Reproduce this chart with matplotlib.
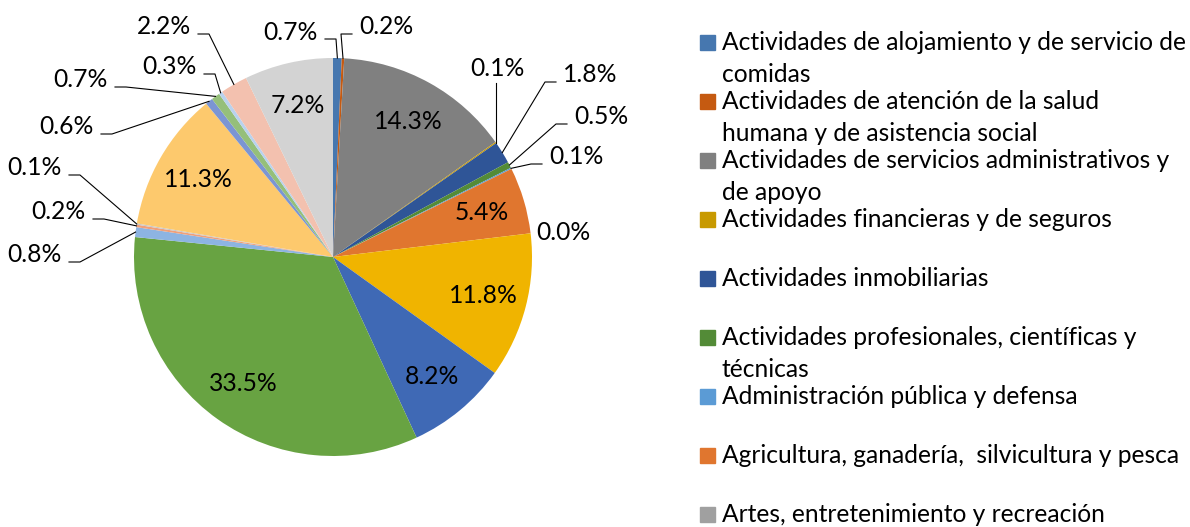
import matplotlib
matplotlib.use("Agg")
import matplotlib.pyplot as plt
from matplotlib.patches import Rectangle
import numpy as np

plt.rcParams["font.family"] = ["Lato", "DejaVu Sans"]

# share of each sector, clockwise from 12 o'clock (%)
shares = [0.7, 0.2, 14.3, 0.1, 1.8, 0.5, 0.1, 5.4, 0.0, 11.8, 8.2,
          33.5, 0.8, 0.2, 0.1, 11.3, 0.6, 0.7, 0.3, 2.2, 7.2]

slice_colors = ["#4677AF", "#C55A11", "#808080", "#C89A00", "#2F5597",
                "#538B37", "#5B9BD5", "#E0762F", "#A0A0A0", "#F0B400",
                "#3F69B5", "#68A342", "#8DB4E2", "#F0A07A", "#C8C8C8",
                "#FDC96D", "#7B95D3", "#95BF7A", "#B9D2EE", "#F3C1AF",
                "#D3D3D3"]

legend_names = [
    "Actividades de alojamiento y de servicio de\ncomidas",
    "Actividades de atención de la salud\nhumana y de asistencia social",
    "Actividades de servicios administrativos y\nde apoyo",
    "Actividades financieras y de seguros",
    "Actividades inmobiliarias",
    "Actividades profesionales, científicas y\ntécnicas",
    "Administración pública y defensa",
    "Agricultura, ganadería,  silvicultura y pesca",
    "Artes, entretenimiento y recreación",
]

W, H = 1190, 527
CX, CY, R = 333, 257, 199      # pie centre and radius in pixels
FS = 17.7

# small slices get an outside label: (side, text x, text y) in pixels
outer_labels = {
    0: ("L", 318, 32), 1: ("R", 359, 27), 3: ("T", 497, 80),
    4: ("R", 563, 75), 5: ("R", 574, 117), 6: ("R", 549, 157),
    8: ("N", 536, 233), 12: ("L", 62, 255), 13: ("L", 86, 212),
    14: ("L", 62, 168), 16: ("L", 94, 127), 17: ("L", 108, 80),
    18: ("L", 197, 67), 19: ("L", 191, 27),
}


def to_data(px, py):
    return (px - CX) / R, (CY - py) / R


fig = plt.figure(figsize=(W / 100, H / 100), dpi=100)
ax = fig.add_axes([0, 0, 1, 1])
wedges, _ = ax.pie(shares, colors=slice_colors, startangle=90, counterclock=False,
                   radius=1, wedgeprops=dict(linewidth=0))
ax.set_xlim(-CX / R, (W - CX) / R)
ax.set_ylim((CY - H) / R, CY / R)
ax.set_aspect("equal")
ax.axis("off")

for i, (w, v) in enumerate(zip(wedges, shares)):
    mid = np.deg2rad((w.theta1 + w.theta2) / 2)
    ex, ey = np.cos(mid), np.sin(mid)
    label = f"{v:.1f}%"
    if i not in outer_labels:
        ax.text(0.78 * ex, 0.78 * ey, label, ha="center", va="center", fontsize=FS)
        continue
    side, tx, ty = outer_labels[i]
    if side == "T":
        ax.text(*to_data(tx, ty), label, ha="center", va="bottom", fontsize=FS)
        ax.plot([ex, ex], [ey, to_data(tx, ty + 3)[1]], color="black", lw=0.8)
    elif side == "N":
        ax.text(*to_data(tx, ty), label, ha="left", va="center", fontsize=FS)
    else:
        d = 1 if side == "L" else -1
        ax.text(*to_data(tx, ty), label, ha="right" if side == "L" else "left",
                va="center", fontsize=FS)
        attach = to_data(tx + d * 7, ty + 7)
        elbow = to_data(tx + d * 18, ty + 7)
        ax.plot([ex, elbow[0], attach[0]], [ey, elbow[1], attach[1]],
                color="black", lw=0.8)

# legend drawn entry by entry, one fixed slot per category
for k, name in enumerate(legend_names):
    y = 43 + 59 * k
    fig.patches.append(Rectangle((700 / W, 1 - (y + 7) / H), 15 / W, 15 / H,
                                 transform=fig.transFigure, color=slice_colors[k]))
    fig.text(722 / W, 1 - (y - 12) / H, name, ha="left", va="top", fontsize=FS,
             linespacing=1.46)

fig.savefig("out.png", dpi=100)
